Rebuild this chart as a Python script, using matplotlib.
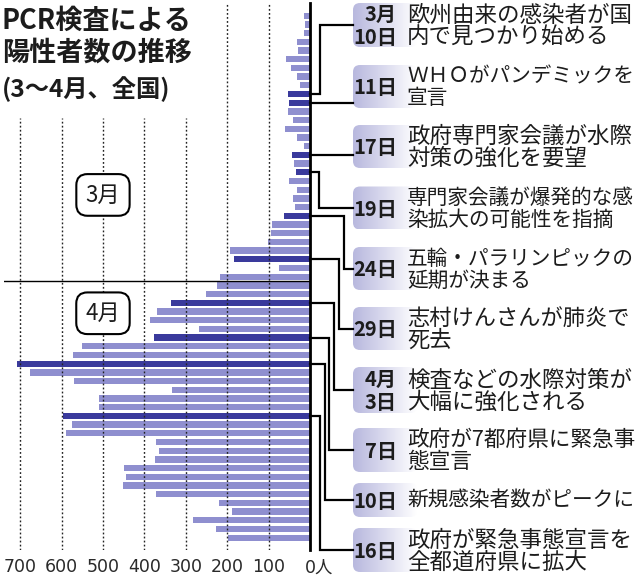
import numpy as np
import matplotlib
matplotlib.use("Agg")
import matplotlib.pyplot as plt
from matplotlib import font_manager
from matplotlib.patches import FancyBboxPatch

plt.rcParams['font.family'] = ['Noto Sans CJK JP', 'DejaVu Sans']

# ---------------- data ----------------
march_values = [14, 12, 14, 32, 30, 58, 46, 32, 25, 53,
                51, 53, 40, 60, 32, 14, 43, 38, 35, 51,
                32, 41, 37, 64, 92, 95, 102, 193, 184, 74, 217]
april_values = [224, 252, 336, 370, 386, 269, 377, 550, 572, 708,
                676, 571, 333, 510, 510, 597, 575, 589, 372, 365,
                374, 449, 444, 451, 373, 220, 188, 283, 226, 199]
days = [f"3/{d}" for d in range(1, 32)] + [f"4/{d}" for d in range(1, 31)]
values = march_values + april_values

event_days = ["3/10", "3/11", "3/17", "3/19", "3/24", "3/29", "4/3", "4/7", "4/10", "4/16"]
date_labels = ["3月\n10日", "11日", "17日", "19日", "24日", "29日", "4月\n3日", "7日", "10日", "16日"]
event_texts = [
    ["欧州由来の感染者が国", "内で見つかり始める"],
    ["ＷＨＯがパンデミックを", "宣言"],
    ["政府専門家会議が水際", "対策の強化を要望"],
    ["専門家会議が爆発的な感", "染拡大の可能性を指摘"],
    ["五輪・パラリンピックの", "延期が決まる"],
    ["志村けんさんが肺炎で", "死去"],
    ["検査などの水際対策が", "大幅に強化される"],
    ["政府が7都府県に緊急事", "態宣言"],
    ["新規感染者数がピークに"],
    ["政府が緊急事態宣言を", "全都道府県に拡大"],
]
tick_values = [700, 600, 500, 400, 300, 200, 100]
tick_labels = ["700", "600", "500", "400", "300", "200", "100"]
title_lines = ["PCR検査による", "陽性者数の推移", "(3〜4月、全国)"]

# ---------------- style / layout ----------------
LIGHT = '#8f8fcf'
DARK = '#3a3a9c'
TXT = '#1c1c1c'
W, H = 640, 581

names = {f.name for f in font_manager.fontManager.ttflist}
NUMFONT = 'Liberation Sans Narrow' if 'Liberation Sans Narrow' in names else 'DejaVu Sans'
num_size = 17 if NUMFONT == 'Liberation Sans Narrow' else 12.5

fig = plt.figure(figsize=(W / 100, H / 100), dpi=100)
fig.patch.set_facecolor('white')

ax_l, ax_r, ax_t, ax_b = 3.6, 310, 3, 550
ax = fig.add_axes([ax_l / W, 1 - ax_b / H, (ax_r - ax_l) / W, (ax_b - ax_t) / H])
ax.patch.set_visible(False)

ypos = np.arange(len(values))
colors = [DARK if d in event_days else LIGHT for d in days]
ax.barh(ypos, values, height=0.72, color=colors, zorder=2)
ax.set_xlim(740, 0)
ax.set_ylim(61.41, -1.46)

grid_top = (ax_b - 118) / (ax_b - ax_t)
for v in tick_values:
    ax.axvline(v, ymin=0, ymax=(1 if v <= 200 else grid_top), color='#222222',
               lw=1.0, ls=(0, (1.3, 1.6)), zorder=3)

ax.axhline(30.5, color='black', lw=1.0, zorder=3)

for s in ['left', 'top', 'bottom']:
    ax.spines[s].set_visible(False)
ax.spines['right'].set_color('black')
ax.spines['right'].set_linewidth(2.0)
ax.spines['right'].set_zorder(4)

ax.set_yticks([])
ax.set_xticks(tick_values)
ax.set_xticklabels(tick_labels)
ax.tick_params(axis='x', length=0, pad=6, labelsize=num_size, labelcolor='#2a2a2a')
for lbl in ax.get_xticklabels():
    lbl.set_family(NUMFONT)
ax.annotate("0人", xy=(0, 0), xycoords=ax.get_xaxis_transform(),
            xytext=(-4.0, -6), textcoords='offset points', ha='left', va='top',
            fontsize=num_size, color='#2a2a2a', family=[NUMFONT, 'Noto Sans CJK JP'])

# month boxes
for label, yy in [("3月", 20.6), ("4月", 34.2)]:
    ax.text(500, yy, label, ha='center', va='center', fontsize=16, color=TXT, zorder=5,
            bbox=dict(boxstyle='round,pad=0.42,rounding_size=0.5', fc='white', ec='black', lw=1.5))

# title
fig.text(2 / W, 1 - 21 / H, title_lines[0], ha='left', va='center', fontsize=19.5,
         fontweight='bold', color=TXT)
fig.text(2 / W, 1 - 53 / H, title_lines[1], ha='left', va='center', fontsize=19.5,
         fontweight='bold', color=TXT)
fig.text(2 / W, 1 - 89 / H, title_lines[2], ha='left', va='center', fontsize=17.5,
         fontweight='bold', color=TXT)

# ---------------- overlay for annotations ----------------
ov = fig.add_axes([0, 0, 1, 1])
ov.patch.set_visible(False)
ov.set_xlim(0, W)
ov.set_ylim(H, 0)
ov.axis('off')
ov.set_autoscale_on(False)


def bar_py(idx):
    disp = ax.transData.transform((0, idx))
    return ov.transData.inverted().transform(disp)[1]


box_centers = [25, 86.5, 146.5, 208, 268.5, 328.5, 390, 450, 500, 550]
box_heights = [44, 43, 43, 43, 43, 43, 46, 44, 34, 44]
elbow_x = [320, None, None, 319, 344, 339, 334, 329, 325, 320]
text_sizes = [16.2, 14.9, 16.2, 14.9, 14.9, 16.0, 16.2, 15.6, 14.9, 16.2]
box_left, box_w, text_x = 353, 64, 407

grad = np.linspace(0, 1, 256)
c0 = np.array([0.72, 0.72, 0.87])
c1 = np.array([1.0, 1.0, 1.0])
grad_img = (c0[None, :] * (1 - grad[:, None]) + c1[None, :] * grad[:, None])[None, :, :]

for i, d in enumerate(event_days):
    by = bar_py(days.index(d))
    cy = box_centers[i]
    h = box_heights[i]
    ex = elbow_x[i]
    if ex is None:
        xs, ys = [ax_r, box_left], [by, by]
    else:
        xs, ys = [ax_r, ex, ex, box_left], [by, by, cy, cy]
    ov.plot(xs, ys, color='black', lw=1.6, solid_joinstyle='miter', zorder=3)

    patch = FancyBboxPatch((box_left, cy - h / 2), box_w, h,
                           boxstyle='round,pad=0,rounding_size=7', fc='none', ec='none')
    ov.add_patch(patch)
    im = ov.imshow(grad_img, extent=[box_left, box_left + box_w, cy + h / 2, cy - h / 2],
                   aspect='auto', zorder=1, interpolation='bilinear')
    im.set_clip_path(patch)

    ov.text(397, cy + 1, date_labels[i], ha='right', va='center', multialignment='right',
            fontsize=14.5, fontweight='bold', color=TXT, linespacing=1.08, zorder=4)

    lines = event_texts[i]
    if len(lines) == 1:
        ov.text(text_x, cy, lines[0], ha='left', va='center', fontsize=text_sizes[i],
                color=TXT, zorder=4)
    else:
        ov.text(text_x, cy - 10, lines[0], ha='left', va='center', fontsize=text_sizes[i],
                color=TXT, zorder=4)
        ov.text(text_x, cy + 12, lines[1], ha='left', va='center', fontsize=text_sizes[i],
                color=TXT, zorder=4)

ov.set_xlim(0, W)
ov.set_ylim(H, 0)

fig.savefig('out.png', dpi=100, facecolor='white')
